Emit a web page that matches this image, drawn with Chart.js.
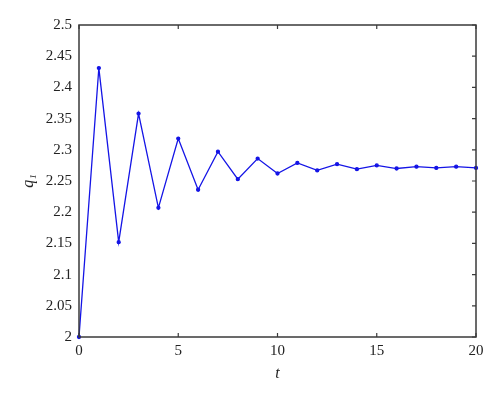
<!DOCTYPE html>
<html>
<head>
<meta charset="utf-8">
<script src="https://cdn.jsdelivr.net/npm/chart.js@4.4.1/dist/chart.umd.min.js"></script>
<style>
html,body{margin:0;padding:0;background:#fff;}
#wrap{width:500px;height:400px;}
</style>
</head>
<body>
<div id="wrap"><canvas id="c" width="500" height="400"></canvas></div>
<script>
const tValues = [0,1,2,3,4,5,6,7,8,9,10,11,12,13,14,15,16,17,18,19,20];
const q1Values = [2.000,2.431,2.152,2.358,2.207,2.318,2.236,2.297,2.253,2.286,2.262,2.279,2.267,2.277,2.269,2.275,2.270,2.273,2.271,2.273,2.271];
const xTicks = [0,5,10,15,20];
const yTicks = [2,2.05,2.1,2.15,2.2,2.25,2.3,2.35,2.4,2.45,2.5];

const frameColor = '#3a3a3a';
const fontFam = '"Liberation Serif", "DejaVu Serif", serif';

const framePlugin = {
  id: 'frame',
  afterDraw(chart) {
    const {ctx, chartArea: a, scales} = chart;
    ctx.save();
    ctx.strokeStyle = frameColor;
    ctx.lineWidth = 1.5;
    ctx.strokeRect(a.left, a.top, a.right - a.left, a.bottom - a.top);
    ctx.lineWidth = 1.2;
    ctx.beginPath();
    xTicks.forEach(v => {
      const px = scales.x.getPixelForValue(v);
      ctx.moveTo(px, a.bottom); ctx.lineTo(px, a.bottom - 4);
      ctx.moveTo(px, a.top); ctx.lineTo(px, a.top + 4);
    });
    yTicks.forEach(v => {
      const py = scales.y.getPixelForValue(v);
      ctx.moveTo(a.right, py); ctx.lineTo(a.right - 4, py);
    });
    ctx.stroke();
    ctx.restore();
  }
};

new Chart(document.getElementById('c'), {
  type: 'line',
  data: {
    datasets: [{
      data: tValues.map((t, i) => ({x: t, y: q1Values[i]})),
      borderColor: '#1414e6',
      backgroundColor: '#1414e6',
      borderWidth: 1.3,
      pointRadius: 1.5,
      pointHoverRadius: 1.5,
      tension: 0,
      clip: false
    }]
  },
  options: {
    responsive: false,
    animation: false,
    events: [],
    layout: {padding: {left: 0, top: 25, right: 24, bottom: 0}},
    plugins: {legend: {display: false}, tooltip: {enabled: false}},
    scales: {
      x: {
        type: 'linear', min: 0, max: 20,
        afterBuildTicks: s => { s.ticks = xTicks.map(v => ({value: v})); },
        afterFit: s => { s.height = 63; },
        grid: {display: false, drawTicks: false},
        border: {display: false},
        ticks: {color: '#222', padding: 5, font: {family: fontFam, size: 15}, maxRotation: 0},
        title: {display: true, text: 't', color: '#222', font: {family: fontFam, size: 16, style: 'italic'}, padding: {top: 0, bottom: 17}}
      },
      y: {
        type: 'linear', min: 2, max: 2.5,
        afterBuildTicks: s => { s.ticks = yTicks.map(v => ({value: v})); },
        afterFit: s => { s.width = 79; },
        grid: {display: false, drawTicks: false},
        border: {display: false},
        ticks: {color: '#222', padding: 7, font: {family: fontFam, size: 15}, callback: v => String(Math.round(v * 100) / 100)},
        title: {display: true, text: 'q₁', color: '#222', font: {family: fontFam, size: 16, style: 'italic'}, padding: {top: 19, bottom: 0}}
      }
    }
  },
  plugins: [framePlugin]
});
</script>
</body>
</html>
